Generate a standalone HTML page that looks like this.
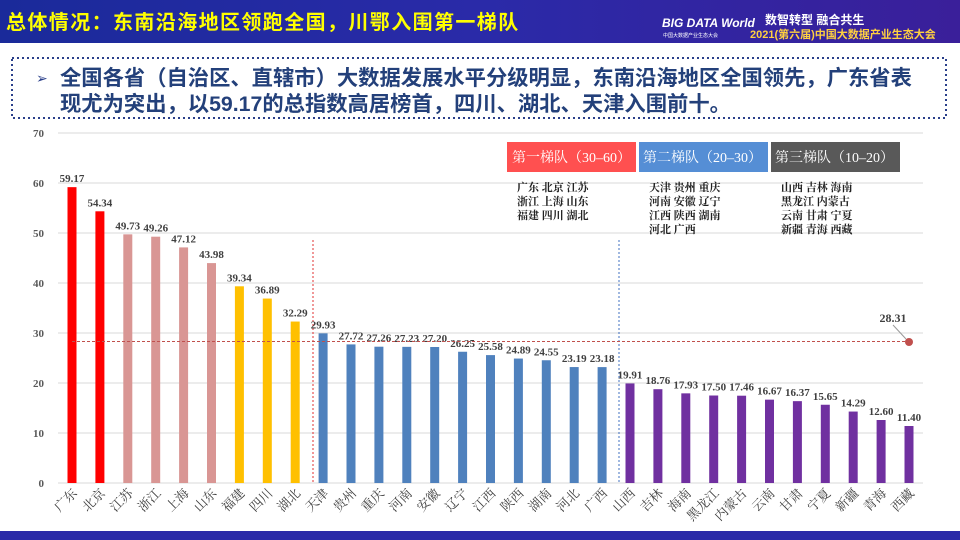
<!DOCTYPE html>
<html><head><meta charset="utf-8"><style>
body{margin:0;width:960px;height:540px;overflow:hidden;background:#fff;font-family:"Liberation Sans","Noto Sans CJK SC",sans-serif}
</style></head><body>
<svg width="960" height="540" xmlns="http://www.w3.org/2000/svg" style="position:absolute;left:0;top:0">
<defs>
<linearGradient id="hd" x1="0" x2="1" y1="0" y2="0"><stop offset="0" stop-color="#1a2a9a"/><stop offset="0.5" stop-color="#2a2aa8"/><stop offset="1" stop-color="#3a1f9a"/></linearGradient>
</defs>
<rect x="0" y="0" width="960" height="43" fill="url(#hd)"/>
<text x="6" y="29" font-size="20" font-weight="bold" fill="#ffff00" letter-spacing="1.4" font-family="Liberation Sans,Noto Sans CJK SC,sans-serif">总体情况：东南沿海地区领跑全国，川鄂入围第一梯队</text>
<text x="662" y="27" font-size="12" font-weight="bold" fill="#fff" font-style="italic">BIG DATA World</text>
<text x="663" y="37" font-size="5" fill="#fff">中国大数据产业生态大会</text>
<text x="765" y="24" font-size="12" font-weight="bold" fill="#fff">数智转型 融合共生</text>
<text x="750" y="38" font-size="11" font-weight="bold" fill="#ffd040">2021(第六届)中国大数据产业生态大会</text>
<rect x="12" y="58" width="934" height="60" fill="none" stroke="#2a3f8a" stroke-width="2" stroke-dasharray="2,3"/>
<text x="36" y="83" font-size="14" fill="#2a3f8a">➢</text>
<text x="60" y="85" font-size="21.3" font-weight="bold" fill="#23407a">全国各省（自治区、直辖市）大数据发展水平分级明显，东南沿海地区全国领先，广东省表</text>
<text x="60" y="111" font-size="21.3" font-weight="bold" fill="#23407a">现尤为突出，以59.17的总指数高居榜首，四川、湖北、天津入围前十。</text>
<g stroke="#d9d9d9" stroke-width="1">
<line x1="58" x2="923" y1="483" y2="483"/><line x1="58" x2="923" y1="433" y2="433"/><line x1="58" x2="923" y1="383" y2="383"/><line x1="58" x2="923" y1="333" y2="333"/><line x1="58" x2="923" y1="283" y2="283"/><line x1="58" x2="923" y1="233" y2="233"/><line x1="58" x2="923" y1="183" y2="183"/><line x1="58" x2="923" y1="133" y2="133"/>
</g>
<g font-size="11" font-weight="bold" fill="#595959" text-anchor="end" font-family="Liberation Serif,serif">
<text x="44" y="487">0</text><text x="44" y="437">10</text><text x="44" y="387">20</text><text x="44" y="337">30</text><text x="44" y="287">40</text><text x="44" y="237">50</text><text x="44" y="187">60</text><text x="44" y="137">70</text>
</g>
<line x1="313" y1="240" x2="313" y2="483" stroke="#e03030" stroke-dasharray="2,2"/>
<line x1="619" y1="240" x2="619" y2="483" stroke="#4070c0" stroke-dasharray="2,2"/>
<g id="bars"></g>
<line x1="72" y1="341.5" x2="909" y2="341.5" stroke="#c0504d" stroke-dasharray="3,2"/>
<line x1="893" y1="325" x2="906" y2="339" stroke="#999"/>
<circle cx="909" cy="342" r="4" fill="#c0504d"/>
<text x="893" y="322" font-size="12" font-weight="bold" fill="#404040" font-family="Liberation Serif,serif" text-anchor="middle">28.31</text>
<rect x="507" y="142" width="129" height="30" fill="#ff5050"/>
<text x="512" y="162" font-size="14" fill="#fff" font-family="Liberation Serif,Noto Serif CJK SC,serif">第一梯队（30–60）</text>
<rect x="639" y="142" width="129" height="30" fill="#558ed5"/>
<text x="643" y="162" font-size="14" fill="#fff" font-family="Liberation Serif,Noto Serif CJK SC,serif">第二梯队（20–30）</text>
<rect x="771" y="142" width="129" height="30" fill="#595959"/>
<text x="775" y="162" font-size="14" fill="#fff" font-family="Liberation Serif,Noto Serif CJK SC,serif">第三梯队（10–20）</text>
<g font-size="11" font-weight="bold" fill="#222" font-family="Liberation Serif,Noto Serif CJK SC,serif">
<text x="517" y="191">广东 北京 江苏</text><text x="517" y="205">浙江 上海 山东</text><text x="517" y="219">福建 四川 湖北</text>
<text x="649" y="191">天津 贵州 重庆</text><text x="649" y="205">河南 安徽 辽宁</text><text x="649" y="219">江西 陕西 湖南</text><text x="649" y="233">河北 广西</text>
<text x="781" y="191">山西 吉林 海南</text><text x="781" y="205">黑龙江 内蒙古</text><text x="781" y="219">云南 甘肃 宁夏</text><text x="781" y="233">新疆 青海 西藏</text>
</g>
<rect x="0" y="531" width="960" height="9" fill="#2a2aa8"/>
</svg>
<script>
var d=[["广东",59.17,"#ff0000"],["北京",54.34,"#ff0000"],["江苏",49.73,"#d99694"],["浙江",49.26,"#d99694"],["上海",47.12,"#d99694"],["山东",43.98,"#d99694"],["福建",39.34,"#ffc000"],["四川",36.89,"#ffc000"],["湖北",32.29,"#ffc000"],["天津",29.93,"#4f81bd"],["贵州",27.72,"#4f81bd"],["重庆",27.26,"#4f81bd"],["河南",27.23,"#4f81bd"],["安徽",27.20,"#4f81bd"],["辽宁",26.25,"#4f81bd"],["江西",25.58,"#4f81bd"],["陕西",24.89,"#4f81bd"],["湖南",24.55,"#4f81bd"],["河北",23.19,"#4f81bd"],["广西",23.18,"#4f81bd"],["山西",19.91,"#7030a0"],["吉林",18.76,"#7030a0"],["海南",17.93,"#7030a0"],["黑龙江",17.50,"#7030a0"],["内蒙古",17.46,"#7030a0"],["云南",16.67,"#7030a0"],["甘肃",16.37,"#7030a0"],["宁夏",15.65,"#7030a0"],["新疆",14.29,"#7030a0"],["青海",12.60,"#7030a0"],["西藏",11.40,"#7030a0"]];
var g=document.getElementById("bars"),s="";
d.forEach(function(e,i){var cx=72+i*27.9,h=e[1]*5,y=483-h;
s+='<rect x="'+(cx-4.5)+'" y="'+y+'" width="9" height="'+h+'" fill="'+e[2]+'"/>';
s+='<text x="'+cx+'" y="'+(y-5)+'" font-size="11" font-weight="bold" fill="#404040" text-anchor="middle" font-family="Liberation Serif,serif">'+e[1].toFixed(2)+'</text>';
s+='<text transform="translate('+(cx+6)+',494) rotate(-45)" font-size="13" fill="#404040" text-anchor="end" font-family="Liberation Serif,Noto Serif CJK SC,serif">'+e[0]+'</text>';});
g.innerHTML=s;
</script>
</body></html>
